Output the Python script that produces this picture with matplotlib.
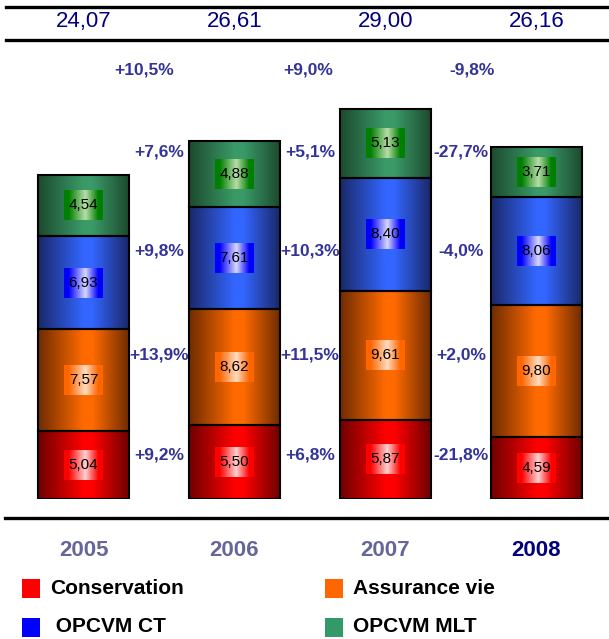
import numpy as np
import matplotlib.pyplot as plt
from matplotlib.colors import LinearSegmentedColormap
from matplotlib.lines import Line2D
from matplotlib.patches import Rectangle
from matplotlib.transforms import blended_transform_factory

plt.rcParams['font.family'] = ['Liberation Sans', 'DejaVu Sans']

years = ['2005', '2006', '2007', '2008']
series = ['Conservation', 'Assurance vie', 'OPCVM CT', 'OPCVM MLT']
conservation = [5.04, 5.50, 5.87, 4.59]
assurance_vie = [7.57, 8.62, 9.61, 9.80]
opcvm_ct = [6.93, 7.61, 8.40, 8.06]
opcvm_mlt = [4.54, 4.88, 5.13, 3.71]
totals = [24.07, 26.61, 29.00, 26.16]

# year-on-year growth (%) between consecutive years
growth_total = [10.5, 9.0, -9.8]
growth_conservation = [9.2, 6.8, -21.8]
growth_assurance = [13.9, 11.5, 2.0]
growth_ct = [9.8, 10.3, -4.0]
growth_mlt = [7.6, 5.1, -27.7]

values = [conservation, assurance_vie, opcvm_ct, opcvm_mlt]
growths = [growth_conservation, growth_assurance, growth_ct, growth_mlt]

# bar shading: dark edge / bright centre, label box: edge / pale centre
bar_shades = [('#6e0000', '#ff0000'), ('#6e2c00', '#ff6a00'),
              ('#1a2868', '#3366ff'), ('#1c4a2e', '#3a9a68')]
box_shades = [('#ff0000', '#ffd0d0'), ('#ff6600', '#ffdcc0'),
              ('#0000ff', '#d8d8ff'), ('#008000', '#b8dcaa')]
legend_colors = ['#ff0000', '#ff6600', '#0000ff', '#339966']


def fmt(v):
    return f'{v:.2f}'.replace('.', ',')


def fmt_pct(v):
    return f'{v:+.1f}%'.replace('.', ',')


fig = plt.figure(figsize=(6.09, 6.39), dpi=100)
ax = fig.add_axes([0, 140 / 639, 1, 452 / 639])
xlim = (-83.5 / 151, (609 - 83.5) / 151)
ylim = (0, 452 / 13.46)
ax.axis('off')

x = np.arange(len(years))
bw = 91 / 151
gx = np.linspace(0, 1, 256).reshape(1, -1)

bottom = np.zeros(len(years))
for s, vals in enumerate(values):
    dark, bright = bar_shades[s]
    cmap = LinearSegmentedColormap.from_list(
        'b%d' % s, [(0, dark), (0.5, bright), (0.6, bright), (1, dark)])
    edge, pale = box_shades[s]
    bcmap = LinearSegmentedColormap.from_list(
        'l%d' % s, [(0, edge), (0.12, edge), (0.55, pale), (0.88, edge), (1, edge)])
    bars = ax.bar(x, vals, bottom=bottom, width=bw, facecolor='none',
                  edgecolor='black', linewidth=1.5, zorder=3)
    for xi, b0, v, patch in zip(x, bottom, vals, bars):
        im = ax.imshow(gx, cmap=cmap, aspect='auto', zorder=2,
                       extent=[xi - bw / 2, xi + bw / 2, b0, b0 + v])
        im.set_clip_path(patch)
        yc = b0 + v / 2
        ax.imshow(gx, cmap=bcmap, aspect='auto', zorder=4,
                  extent=[xi - 0.126, xi + 0.126, yc - 1.11, yc + 1.11])
        ax.text(xi, yc, fmt(v), ha='center', va='center', fontsize=11,
                color='black', zorder=5)
    bottom = bottom + np.array(vals)

ax.set_xlim(*xlim)
ax.set_ylim(*ylim)

# growth labels between bars
row_y = [3.3, 10.7, 18.4, 25.8]
for s in range(len(series)):
    for g, v in enumerate(growths[s]):
        ax.text(g + 0.5, row_y[s], fmt_pct(v), ha='center', va='center',
                fontsize=12.5, fontweight='bold', color='#333399')
top_shift = [-0.1, -0.01, 0.07]
for g, v in enumerate(growth_total):
    ax.text(g + 0.5 + top_shift[g], 31.9, fmt_pct(v), ha='center', va='center',
            fontsize=12.5, fontweight='bold', color='#333399')

tr = blended_transform_factory(ax.transData, fig.transFigure)

# totals row
for xi, t in zip(x, totals):
    ax.text(xi, 1 - 22 / 639, fmt(t), transform=tr, ha='center', va='center',
            fontsize=16, color='#000080')

# year labels
for xi, yr in zip(x, years):
    col = '#000080' if yr == '2008' else '#666699'
    ax.text(xi, 1 - 551 / 639, yr, transform=tr, ha='center', va='center',
            fontsize=16, fontweight='bold', color=col)

# horizontal rules
for py, x0 in [(7, 6), (40, 6), (518, 5)]:
    fig.add_artist(Line2D([x0 / 609, 1], [1 - py / 639] * 2,
                          transform=fig.transFigure, color='black', lw=2.4))

# legend
legend_pos = [(22, 588), (325, 588), (22, 627), (325, 627)]
legend_text = ['Conservation', 'Assurance vie', ' OPCVM CT', 'OPCVM MLT']
for (px, py), col, lab in zip(legend_pos, legend_colors, legend_text):
    fig.add_artist(Rectangle((px / 609, 1 - (py + 9.5) / 639), 18 / 609, 19 / 639,
                             transform=fig.transFigure, facecolor=col,
                             edgecolor='none'))
    fig.text((px + 28) / 609, 1 - py / 639, lab, ha='left', va='center',
             fontsize=15, fontweight='bold', color='black')

fig.savefig('out.png', dpi=100)
